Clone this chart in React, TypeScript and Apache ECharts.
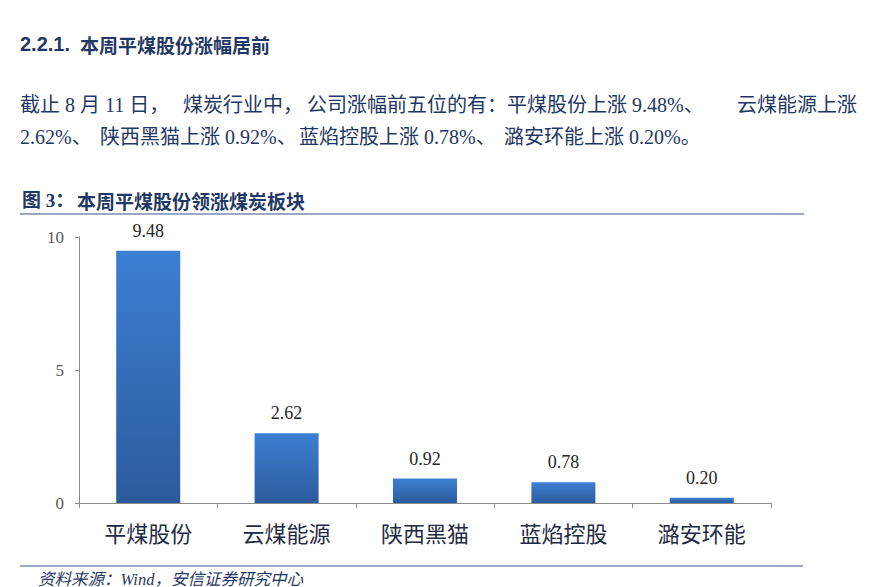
import { useEffect, useRef } from "react";
import * as echarts from "echarts";

const categories = ["平煤股份", "云煤能源", "陕西黑猫", "蓝焰控股", "潞安环能"];
const gains = [9.48, 2.62, 0.92, 0.78, 0.2];

const headingNo = "2.2.1.";
const heading = "本周平煤股份涨幅居前";
// paragraph split in pieces so the justified spacing of the original can be followed
const bodyLine1 = ["截止 8 月 11 日，", "煤炭行业中，", "公司涨幅前五位的有：", "平煤股份上涨 9.48%、", "云煤能源上涨"];
const bodyLine2 = ["2.62%、", "陕西黑猫上涨 0.92%、", "蓝焰控股上涨 0.78%、", "潞安环能上涨 0.20%。"];
const figNo = "图 3：";
const figTitle = "本周平煤股份领涨煤炭板块";
const source = "资料来源：Wind，安信证券研究中心";

const NAVY = "#1f3864";
const SERIF = "'Liberation Serif', 'Noto Sans CJK SC', serif";

const line1X = [20, 183, 307, 507, 737];
const line2X = [20, 100, 299, 504];

export default function App() {
  const ref = useRef<HTMLDivElement>(null);

  useEffect(() => {
    if (!ref.current) return;
    const chart = echarts.init(ref.current, undefined, { renderer: "svg" });

    const bodyText = (parts: string[], xs: number[], y: number) =>
      parts.map((t, i) => ({
        type: "text",
        style: { text: t, x: xs[i], y, fill: NAVY, font: `20px ${SERIF}`, textVerticalAlign: "middle" },
      }));

    chart.setOption({
      animation: false,
      backgroundColor: "#fff",
      grid: { left: 79, right: 108, top: 237, bottom: 84 },
      xAxis: {
        type: "category",
        data: categories,
        axisLine: { lineStyle: { color: "#8c8c8c", width: 1 } },
        axisTick: { show: true, length: 5, interval: 0, lineStyle: { color: "#8c8c8c" } },
        axisLabel: { fontSize: 22, color: "#1f2a44", fontFamily: SERIF, margin: 20, interval: 0 },
      },
      yAxis: {
        type: "value",
        min: 0,
        max: 10,
        interval: 5,
        splitLine: { show: false },
        axisLine: { show: true, lineStyle: { color: "#8c8c8c", width: 1 } },
        axisTick: { show: true, length: 4, lineStyle: { color: "#8c8c8c" } },
        axisLabel: { fontSize: 17, color: "#595959", fontFamily: SERIF, margin: 15 },
      },
      series: [
        {
          type: "bar",
          data: gains,
          barWidth: 64,
          itemStyle: {
            color: new echarts.graphic.LinearGradient(0, 0, 0, 1, [
              { offset: 0, color: "#3c7fd3" },
              { offset: 1, color: "#2c5b9c" },
            ]),
          },
          label: {
            show: true,
            position: "top",
            distance: 11,
            fontSize: 18,
            color: "#262626",
            fontFamily: SERIF,
            formatter: (p: any) => Number(p.value).toFixed(2),
          },
        },
      ],
      graphic: [
        {
          type: "text",
          style: { text: headingNo, x: 20, y: 44, fill: NAVY, font: "bold 20px 'Liberation Sans', Arial, sans-serif", textVerticalAlign: "middle" },
        },
        {
          type: "text",
          style: { text: heading, x: 80, y: 44, fill: NAVY, font: "bold 19px 'Noto Sans CJK SC', sans-serif", textVerticalAlign: "middle" },
        },
        ...bodyText(bodyLine1, line1X, 105),
        ...bodyText(bodyLine2, line2X, 137),
        {
          type: "text",
          style: { text: figNo, x: 22, y: 200, fill: NAVY, font: `bold 19px ${SERIF}`, textVerticalAlign: "middle" },
        },
        {
          type: "text",
          style: { text: figTitle, x: 77, y: 200, fill: NAVY, font: "bold 19px 'Noto Sans CJK SC', sans-serif", textVerticalAlign: "middle" },
        },
        {
          type: "line",
          shape: { x1: 20, y1: 214, x2: 804, y2: 214 },
          style: { stroke: "#3a5383", lineWidth: 1.2 },
        },
        {
          type: "line",
          shape: { x1: 20, y1: 566, x2: 803, y2: 566 },
          style: { stroke: "#3a5383", lineWidth: 1.2 },
        },
        {
          type: "text",
          style: { text: source, x: 38, y: 579, fill: NAVY, font: `italic 16.5px ${SERIF}`, textVerticalAlign: "middle" },
        },
      ],
    });

    return () => chart.dispose();
  }, []);

  return <div ref={ref} style={{ position: "absolute", left: 0, top: 0, width: 879, height: 587 }} />;
}
